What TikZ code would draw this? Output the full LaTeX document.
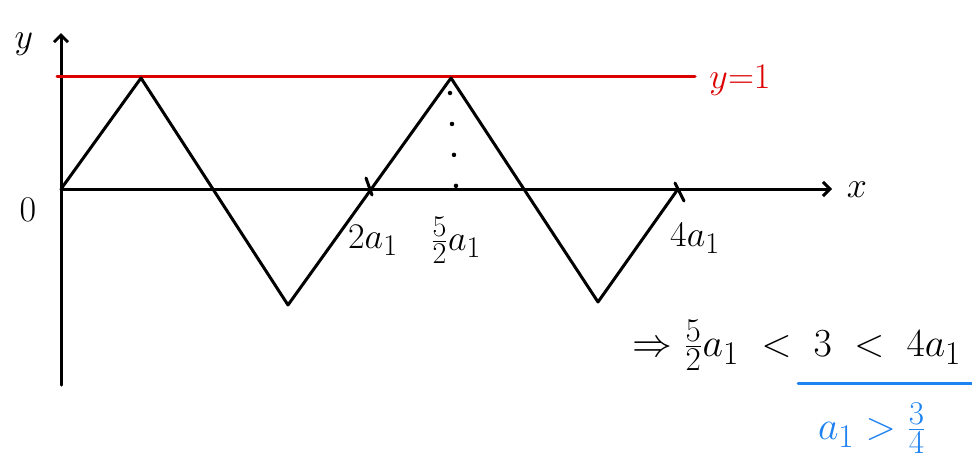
\documentclass[tikz,border=0pt]{standalone}
\usetikzlibrary{arrows.meta}
\definecolor{penred}{RGB}{220,0,0}
\definecolor{penblue}{RGB}{30,130,240}
\begin{document}
\begin{tikzpicture}[x=1pt,y=-1pt, line width=3pt, line cap=round, line join=round,
  axis/.style={-{Straight Barb[length=7pt,width=14pt]}},
  lbl/.style={font=\Huge, inner sep=0pt, scale=1.45, transform shape},
  big/.style={font=\Huge, inner sep=0pt, scale=1.6, transform shape}]
\useasboundingbox (0,0) rectangle (972,467);
\coordinate (O) at (61,189);
\coordinate (ytop) at (61,33);
\coordinate (ybot) at (61,385);
\coordinate (xend) at (832,189);
\coordinate (r1) at (57,76);
\coordinate (r2) at (695,76);
\coordinate (p1) at (141,78);
\coordinate (p2) at (288,305);
\coordinate (p3) at (451,78);
\coordinate (p4) at (598,302);
\coordinate (p5) at (678,189);
\coordinate (d1) at (450,93);
\coordinate (d2) at (456,186);
\coordinate (t1a) at (366,178);
\coordinate (t1b) at (372,195);
\coordinate (t2a) at (675,183);
\coordinate (t2b) at (684,201);
\coordinate (u1) at (798,383);
\coordinate (u2) at (972,383);
% axes
\draw[axis] (ybot) -- (ytop);
\draw[axis] (O) -- (xend);
% red line y=1
\draw[penred] (r1) -- (r2);
% zigzag
\draw (O) -- (p1) -- (p2) -- (p3) -- (p4) -- (p5);
% ticks
\draw (t1a) -- (t1b);
\draw (t2a) -- (t2b);
% dotted
\draw[line width=4.5pt, dash pattern=on 0pt off 31pt] (d1) -- (d2);
% labels
\node[lbl] (ly) at (24,44) {$y$};
\node[lbl] (lo) at (28,210) {$0$};
\node[lbl] (lx) at (857,190) {$x$};
\node[lbl, text=penred] (ly1) at (740,80) {$y{=}1$};
\node[lbl] (l2a) at (373,240) {$2a_1$};
\node[lbl] (l52a) at (456,240) {${\textstyle\frac{5}{2}}a_1$};
\node[lbl] (l4a) at (695,238) {$4a_1$};
\node[big] (ineq) at (797,345) {$\Rightarrow {\textstyle\frac{5}{2}}a_1 \;<\; 3 \;<\; 4a_1$};
\draw[penblue] (u1) -- (u2);
\node[big, text=penblue] (res) at (872,428) {$a_1 > {\textstyle\frac{3}{4}}$};
\end{tikzpicture}
\end{document}
